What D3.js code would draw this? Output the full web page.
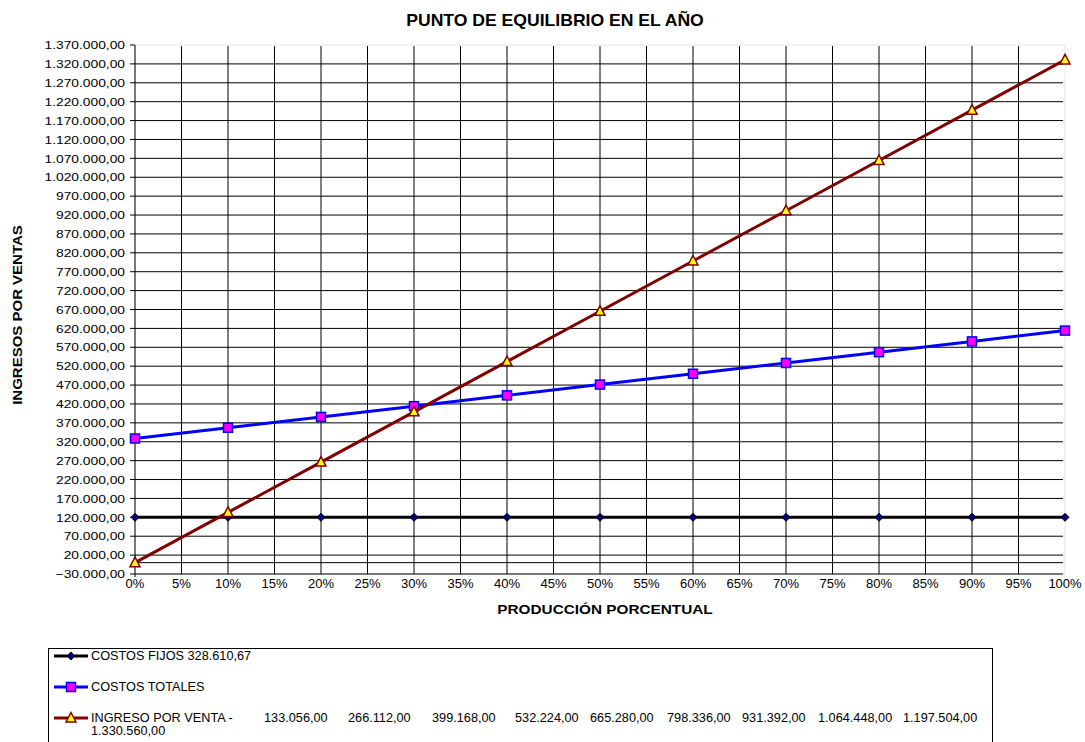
<!DOCTYPE html>
<html>
<head>
<meta charset="utf-8">
<script src="https://cdn.jsdelivr.net/npm/d3@7"></script>
<style>
  html, body { margin: 0; padding: 0; background: #fff; }
  svg { display: block; }
  text { font-family: "Liberation Sans", Arial, sans-serif; fill: #000; }
</style>
</head>
<body>
<svg id="chart" width="1085" height="742"></svg>
<script>
// Production levels (share of capacity)
const production = [0, 0.1, 0.2, 0.3, 0.4, 0.5, 0.6, 0.7, 0.8, 0.9, 1.0];

// Series values
const costosFijos = [120000, 120000, 120000, 120000, 120000, 120000, 120000, 120000, 120000, 120000, 120000];
const costosTotales = [328610.67, 357000, 385700, 414200, 442800, 471400, 499900, 528500, 557100, 585600, 614200];
const ingresoVenta = [0, 133056, 266112, 399168, 532224, 665280, 798336, 931392, 1064448, 1197504, 1330560];

// Axis ticks
const yTicks = d3.range(-30000, 1370001, 50000);
const xTicks = d3.range(0, 1.0001, 0.05);

// Texts
const titleText = "PUNTO DE EQUILIBRIO EN EL AÑO";
const xTitle = "PRODUCCIÓN PORCENTUAL";
const yTitle = "INGRESOS POR VENTAS";
const legendLabels = ["COSTOS FIJOS 328.610,67", "COSTOS TOTALES", "INGRESO POR VENTA  -"];

const locale = d3.formatLocale({ decimal: ",", thousands: ".", grouping: [3], currency: ["", ""] });
const fmtNum = locale.format(",.2f");
const fmtPct = v => Math.round(v * 100) + "%";

const svg = d3.select("#chart");

const plot = { left: 135, right: 1065, top: 45, bottom: 574 };
const x = d3.scaleLinear().domain([0, 1]).range([plot.left, plot.right]);
const y = d3.scaleLinear().domain([-30000, 1370000]).range([plot.bottom, plot.top]);

// horizontally widened text, anchored at its own x/y
function widen(sel, sx) {
  sel.attr("transform", function () {
    const tx = +this.getAttribute("x"), ty = +this.getAttribute("y");
    return `translate(${tx},${ty}) scale(${sx},1) translate(${-tx},${-ty})`;
  });
}

// Plot area frame
svg.append("rect")
  .attr("x", plot.left).attr("y", plot.top)
  .attr("width", plot.right - plot.left).attr("height", plot.bottom - plot.top)
  .attr("fill", "#fff").attr("stroke", "#e4e4e4").attr("stroke-width", 1);

// Horizontal gridlines
const grid = svg.append("g").attr("stroke", "#000").attr("stroke-width", 1);
grid.selectAll("line.h")
  .data(yTicks.filter(v => v < 1370000).concat([0]))
  .join("line")
  .attr("x1", plot.left).attr("x2", plot.right - 2)
  .attr("y1", d => y(d)).attr("y2", d => y(d));

// Vertical gridlines
grid.selectAll("line.v")
  .data(xTicks.filter(v => v > 0 && v < 0.999))
  .join("line")
  .attr("x1", d => x(d)).attr("x2", d => x(d))
  .attr("y1", plot.top + 1).attr("y2", plot.bottom);

// Value axis
const yAxis = svg.append("g");
yAxis.append("line")
  .attr("x1", plot.left).attr("x2", plot.left)
  .attr("y1", plot.top).attr("y2", plot.bottom + 3)
  .attr("stroke", "#000");
yAxis.selectAll("line.tick")
  .data(yTicks)
  .join("line")
  .attr("x1", plot.left - 5).attr("x2", plot.left)
  .attr("y1", d => y(d)).attr("y2", d => y(d))
  .attr("stroke", "#000");
yAxis.selectAll("text")
  .data(yTicks)
  .join("text")
  .attr("x", 125).attr("y", d => y(d) + 4.2)
  .attr("text-anchor", "end")
  .attr("font-size", "11.5px")
  .text(d => fmtNum(d))
  .call(widen, 1.2);

// Category axis labels
svg.append("g").selectAll("text")
  .data(xTicks)
  .join("text")
  .attr("x", d => x(d)).attr("y", 588)
  .attr("text-anchor", "middle")
  .attr("font-size", "13px")
  .text(d => fmtPct(d));

// Titles
svg.append("text")
  .attr("x", 555).attr("y", 26)
  .attr("text-anchor", "middle")
  .attr("font-size", "16px").attr("font-weight", "bold")
  .text(titleText)
  .call(widen, 1.1);

svg.append("text")
  .attr("x", 605).attr("y", 614)
  .attr("text-anchor", "middle")
  .attr("font-size", "13px").attr("font-weight", "bold")
  .text(xTitle)
  .call(widen, 1.18);

svg.append("text")
  .attr("text-anchor", "middle")
  .attr("font-size", "12.5px").attr("font-weight", "bold")
  .attr("transform", "translate(22,315) rotate(-90) scale(1.2,1)")
  .text(yTitle);

// Markers
const markers = {
  diamond: (g, cx, cy) => g.append("path")
    .attr("d", `M${cx},${cy - 4}L${cx + 4},${cy}L${cx},${cy + 4}L${cx - 4},${cy}Z`)
    .attr("fill", "#000080").attr("stroke", "#000").attr("stroke-width", 1),
  square: (g, cx, cy) => g.append("rect")
    .attr("x", cx - 4.5).attr("y", cy - 4.5).attr("width", 9).attr("height", 9)
    .attr("fill", "#ff00ff").attr("stroke", "#0000ff").attr("stroke-width", 1.5),
  triangle: (g, cx, cy) => g.append("path")
    .attr("d", `M${cx},${cy - 5.5}L${cx + 5},${cy + 4}L${cx - 5},${cy + 4}Z`)
    .attr("fill", "#ffff00").attr("stroke", "#800000").attr("stroke-width", 1.5)
};

const series = [
  { values: costosFijos, color: "#000000", marker: "diamond" },
  { values: costosTotales, color: "#0000ff", marker: "square" },
  { values: ingresoVenta, color: "#800000", marker: "triangle" }
];

const line = d3.line().x(d => x(d[0])).y(d => y(d[1]));

series.forEach(s => {
  const pts = production.map((p, i) => [p, s.values[i]]);
  const g = svg.append("g");
  g.append("path")
    .attr("d", line(pts))
    .attr("fill", "none").attr("stroke", s.color).attr("stroke-width", 3)
    .attr("stroke-linejoin", "round");
  pts.forEach(p => markers[s.marker](g, x(p[0]), y(p[1])));
});

// Legend
const legend = svg.append("g");
legend.append("rect")
  .attr("x", 48.5).attr("y", 648.5).attr("width", 944).attr("height", 110)
  .attr("fill", "#fff").attr("stroke", "#000").attr("stroke-width", 1);

const legendRows = [656, 687, 718];
series.forEach((s, i) => {
  const cy = legendRows[i];
  legend.append("line")
    .attr("x1", 54).attr("x2", 88).attr("y1", cy).attr("y2", cy)
    .attr("stroke", s.color).attr("stroke-width", 3);
  markers[s.marker](legend, 71, cy);
  legend.append("text")
    .attr("x", 91).attr("y", cy + 4.5)
    .attr("font-size", "12px")
    .text(legendLabels[i])
    .call(widen, 1.06);
});

// Sales values continuing the third legend entry
const legendValueX = [264, 348, 432, 515, 590, 667, 742, 818, 903];
legend.selectAll("text.val")
  .data(ingresoVenta.slice(1, 10))
  .join("text")
  .attr("x", (d, i) => legendValueX[i]).attr("y", legendRows[2] + 4.5)
  .attr("font-size", "12px")
  .text(d => fmtNum(d))
  .call(widen, 1.06);
legend.append("text")
  .attr("x", 91).attr("y", legendRows[2] + 17)
  .attr("font-size", "12px")
  .text(fmtNum(ingresoVenta[10]))
  .call(widen, 1.06);
</script>
</body>
</html>
